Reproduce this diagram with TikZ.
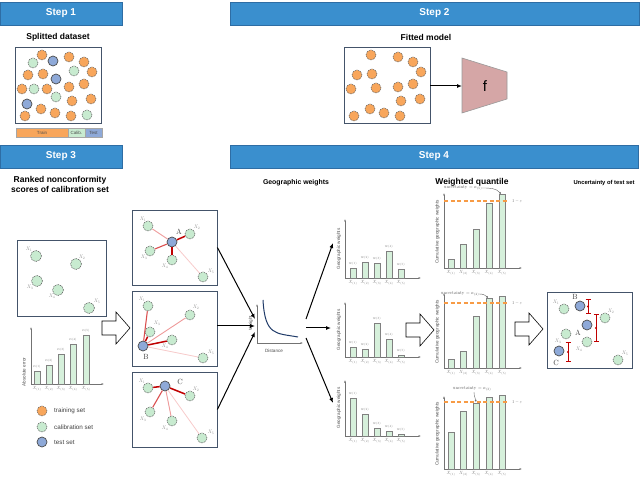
\documentclass[tikz,border=0pt]{standalone}
\usepackage{fontspec}
\setsansfont{Liberation Sans}
\usetikzlibrary{arrows.meta}
\definecolor{bannerblue}{HTML}{3A8FCE}
\definecolor{bannerline}{HTML}{2E6DA4}
\definecolor{corange}{HTML}{F8A65B}
\definecolor{cgreen}{HTML}{C8EBD0}
\definecolor{cblue}{HTML}{8EA9D8}
\definecolor{boxc}{HTML}{44546A}
\definecolor{barfill}{HTML}{D6F0DB}
\definecolor{trapfill}{HTML}{D5A6A6}
\definecolor{rdark}{HTML}{C00000}
\definecolor{rmid}{HTML}{DA4F4F}
\definecolor{rlight}{HTML}{EE9A9A}
\definecolor{rpale}{HTML}{F7CACA}
\definecolor{qline}{HTML}{F79B45}
\definecolor{curve}{HTML}{1F3A68}
\begin{document}
\begin{tikzpicture}[x=1pt,y=-1pt,
  banner/.style={draw=bannerline, fill=bannerblue, line width=0.6pt, text=white,
    font=\sffamily\bfseries\fontsize{10}{12}\selectfont, inner sep=0pt, minimum height=23pt},
  title/.style={font=\sffamily\bfseries\fontsize{8.5}{9.5}\selectfont, align=center, inner sep=0pt},
  frame/.style={draw=boxc, line width=0.8pt, inner sep=0pt, minimum width=86pt, minimum height=76pt},
  dot/.style={circle, minimum size=10pt, inner sep=0pt, draw=black!60, line width=0.6pt, dash pattern=on 1pt off 0.8pt},
  oc/.style={dot, fill=corange},
  gc/.style={dot, fill=cgreen},
  bc/.style={circle, minimum size=10pt, inner sep=0pt, fill=cblue, draw=black!70, line width=0.7pt},
  xl/.style={text=black!45, scale=0.5, inner sep=0pt},
  pl/.style={text=black!75, scale=0.75, inner sep=0pt},
  ml/.style={text=black!50, scale=0.45, inner sep=0pt},
  axl/.style={text=black!70, font=\sffamily\fontsize{4.6}{5}\selectfont, inner sep=0pt},
  axis/.style={draw=black!55, line width=0.5pt, -{Latex[length=2.5pt,width=2pt]}},
  bar/.style={draw=black!50, fill=barfill, line width=0.5pt},
  r1/.style={draw=rdark, line width=1.5pt},
  r2/.style={draw=rmid, line width=1.1pt},
  r3/.style={draw=rlight, line width=0.9pt},
  r4/.style={draw=rpale, line width=0.8pt},
  blk/.style={draw=black, line width=1pt, -{Latex[length=5pt,width=4pt]}},
  harrow/.pic={\draw[fill=white, line width=0.6pt] (-28,-7) -- (-14,-7) -- (-14,-16) -- (0,0) -- (-14,16) -- (-14,7) -- (-28,7) -- cycle;},
  qdash/.style={draw=qline, line width=1.3pt, dash pattern=on 4pt off 2.5pt},
  ebar/.style={draw=rdark, line width=0.9pt, {Bar[width=5pt]}-{Bar[width=5pt]}},
]
\useasboundingbox (0,0) rectangle (640,478);

% ---------- banners ----------
\node[banner, minimum width=122pt] (b1) at (61,13.5) {Step 1};
\node[banner, minimum width=409pt] (b2) at (434.5,13.5) {Step 2};
\node[banner, minimum width=122pt] (b3) at (61,156.5) {Step 3};
\node[banner, minimum width=408pt] (b4) at (434,156.5) {Step 4};

% ---------- Step 1 ----------
\node[title] (t1) at (58,37) {Splitted dataset};
\node[frame] (box1) at (58,85) {};
\foreach \x/\y [count=\i] in {42/55,69/57,84/62,28/75,43/74,92/72,22/89,47/89,69/87,84/84,72/101,91/99,41/109,55/113,71/116,25/116}
  \node[oc] (d1o\i) at (\x,\y) {};
\foreach \x/\y [count=\i] in {33/63,74/71,34/89,56/97,87/115}
  \node[gc] (d1g\i) at (\x,\y) {};
\foreach \x/\y [count=\i] in {53/61,56/79,27/104}
  \node[bc] (d1b\i) at (\x,\y) {};
\node[draw=black!35, fill=corange, minimum width=52pt, minimum height=9pt, inner sep=0pt, font=\sffamily\fontsize{4.5}{5}\selectfont, text=black!70] (lt) at (42,132.5) {Train};
\node[draw=black!35, fill=cgreen, minimum width=17pt, minimum height=9pt, inner sep=0pt, font=\sffamily\fontsize{4.5}{5}\selectfont, text=black!70] (lc) at (76.5,132.5) {Calib.};
\node[draw=black!35, fill=cblue, minimum width=17pt, minimum height=9pt, inner sep=0pt, font=\sffamily\fontsize{4.5}{5}\selectfont, text=black!70] (ls) at (93.5,132.5) {Test};

% ---------- Step 2 ----------
\node[title] (t2) at (426,37) {Fitted model};
\node[frame] (box2) at (387,85) {};
\foreach \x/\y [count=\i] in {371/55,398/57,413/62,357/75,372/74,421/72,351/89,376/88,398/87,413/84,401/101,420/99,370/109,384/113,400/116,354/116}
  \node[oc] (d2o\i) at (\x,\y) {};
\draw[draw=black!40, fill=trapfill, line width=0.6pt] (462,58) -- (507,72) -- (507,99) -- (462,113) -- cycle;
\coordinate (trapL) at (462,86);
\node[font=\sffamily\fontsize{15}{15}\selectfont] (fmod) at (485,86) {f};
\draw[blk] (box2.east |- trapL) -- (trapL);

% ---------- Step 3 ----------
\node[title] (t3) at (60,184.5) {Ranked nonconformity\\scores of calibration set};
\node[frame, minimum width=89pt] (box3) at (62,278) {};
\foreach \x/\y/\lx/\ly [count=\i] in {36/256/29/249,76/264/82/257,37/281/30/287,58/290/52/296,89/308/97/301}{
  \node[gc, minimum size=11pt] (c3\i) at (\x,\y) {};
  \node[xl] (c3l\i) at (\lx,\ly) {$X_{\i}$};
}
% bar chart of scores
\draw[axis] (31,384) -- (31,327);
\draw[axis] (31,384) -- (104,384);
\node[axl, rotate=90] (s3y) at (24,372) {Absolute error};
\foreach \cx/\tp [count=\i] in {37/371,49/365,61/354,73/344,86/335}{
  \draw[bar] (\cx-3,384) rectangle (\cx+3,\tp);
  \node[ml] (s3a\i) at (\cx,\tp-4) {$\alpha_{(\i)}$};
  \node[ml] (s3x\i) at (\cx,389) {$X_{(\i)}$};
}
% legend
\node[oc] (lg1) at (42,411) {};
\node[gc] (lg2) at (42,427) {};
\node[bc] (lg3) at (42,442) {};
\node[anchor=west, font=\sffamily\fontsize{6.3}{7}\selectfont, text=black!75, inner sep=0] (lg1t) at (54,411) {training set};
\node[anchor=west, font=\sffamily\fontsize{6.3}{7}\selectfont, text=black!75, inner sep=0] (lg2t) at (54,427) {calibration set};
\node[anchor=west, font=\sffamily\fontsize{6.3}{7}\selectfont, text=black!75, inner sep=0] (lg3t) at (54,442) {test set};

\pic at (130,328) {harrow};

% ---------- panels A, B, C ----------
\node[frame, minimum width=85pt, minimum height=75pt] (pnA) at (174.5,247.5) {};
\node[frame, minimum width=85pt, minimum height=75pt] (pnB) at (174.5,328.5) {};
\node[frame, minimum width=85pt, minimum height=75pt] (pnC) at (174.5,409.5) {};

% panel A
\node[bc] (pA) at (172,242) {};
\node[pl] (pAl) at (179,232) {A};
\foreach \x/\y/\lx/\ly [count=\i] in {148/226/143/219,190/234/197/227,150/251/144/257,172/260/165/266,203/277/211/271}{
  \node[gc] (pA\i) at (\x,\y) {};
  \node[xl] (pAl\i) at (\lx,\ly) {$X_{\i}$};
}
\draw[r1] (pA) -- (pA2); \draw[r1] (pA) -- (pA4); \draw[r2] (pA) -- (pA3);
\draw[r3] (pA) -- (pA1); \draw[r4] (pA) -- (pA5);

% panel B
\node[bc] (pB) at (143,346) {};
\node[pl] (pBl) at (146,357) {B};
\foreach \x/\y/\lx/\ly [count=\i] in {148/306/142/299,190/315/196/307,150/332/157/323,172/340/165/346,203/358/211/352}{
  \node[gc] (pB\i) at (\x,\y) {};
  \node[xl] (pBl\i) at (\lx,\ly) {$X_{\i}$};
}
\draw[r1] (pB) -- (pB3); \draw[r1] (pB) -- (pB4); \draw[r2] (pB) -- (pB1);
\draw[r3] (pB) -- (pB2); \draw[r4] (pB) -- (pB5);

% panel C
\node[bc] (pC) at (165,386) {};
\node[pl] (pCl) at (180,382) {C};
\foreach \x/\y/\lx/\ly [count=\i] in {148/388/142/381,190/396/196/389,150/412/143/419,172/421/165/428,202/438/211/432}{
  \node[gc] (pC\i) at (\x,\y) {};
  \node[xl] (pCl\i) at (\lx,\ly) {$X_{\i}$};
}
\draw[r1] (pC) -- (pC1); \draw[r1] (pC) -- (pC2); \draw[r2] (pC) -- (pC3);
\draw[r3] (pC) -- (pC4); \draw[r4] (pC) -- (pC5);

% ---------- geographic weights ----------
\node[title, font=\sffamily\bfseries\fontsize{6.9}{8}\selectfont] (t4) at (296,183) {Geographic weights};
\draw[axis] (257,343) -- (257,304);
\draw[axis] (257,343) -- (303,343);
\draw[draw=curve, line width=1pt] (263,300) .. controls (265,336) and (276,333) .. (298,337);
\node[axl, rotate=90] (wy) at (251,323) {Weight};
\node[axl] (wx) at (274,350.5) {Distance};
\coordinate (win1) at (255,319);
\coordinate (win2) at (255,326);
\coordinate (win3) at (255,332);
\draw[blk] (pnA.east) -- (win1);
\draw[blk] (pnB.east |- win2) -- (win2);
\draw[blk] (pnC.east) -- (win3);
\coordinate (wout1) at (306,319);
\coordinate (wout2) at (306,328);
\coordinate (wout3) at (306,338);
\coordinate (h1in) at (333,243);
\coordinate (h2in) at (331,328);
\coordinate (h3in) at (333,403);
\draw[blk] (wout1) -- (h1in);
\draw[blk] (wout2) -- (h2in);
\draw[blk] (wout3) -- (h3in);

% histograms
\foreach \base/\ytop/\tA/\tB/\tC/\tD/\tE/\yl [count=\k] in {278/219/268/262/263/251/269/249, 357/302/347/349/323/339/355/330, 436/380/398/414/428/431/434/408}{
  \draw[axis] (345,\base) -- (345,\ytop);
  \draw[axis] (345,\base) -- (421,\base);
  \node[axl, rotate=90] (hy\k) at (339,\yl) {Geographic weights};
  \foreach \cx/\tp [count=\i] in {353/\tA,365/\tB,377/\tC,389/\tD,401/\tE}{
    \draw[bar] (\cx-3,\base) rectangle (\cx+3,\tp);
    \node[ml] (h\k w\i) at (\cx,\tp-4) {$w_{(\i)}$};
    \node[ml] (h\k x\i) at (\cx,\base+5) {$X_{(\i)}$};
  }
}

\pic at (434,330) {harrow};

% ---------- weighted quantile ----------
\node[title] (t5) at (472,182) {Weighted quantile};
\foreach \base/\ytop/\tA/\tB/\tC/\tD/\tE/\yl/\dl [count=\k] in {268/193/259/244/229/203/194/232/201, 368/293/359/351/316/298/296/332/303, 469/396/432/411/403/397/395/434/402}{
  \draw[axis] (444,\base) -- (444,\ytop);
  \draw[axis] (444,\base) -- (522,\base);
  \node[axl, rotate=90] (qy\k) at (437.5,\yl) {Cumulative geographic weights};
  \foreach \cx/\tp [count=\i] in {451/\tA,463.5/\tB,476/\tC,489/\tD,502/\tE}{
    \draw[bar] (\cx-3,\base) rectangle (\cx+3,\tp);
    \node[ml] (q\k x\i) at (\cx,\base+5) {$X_{(\i)}$};
  }
  \coordinate (qd\k a) at (444,\dl);
  \coordinate (qd\k b) at (508,\dl);
  \draw[qdash] (qd\k a) -- (qd\k b);
  \node[ml, text=black!60, anchor=west] (qe\k) at (512,\dl) {$1-\varepsilon$};
}
\node[ml, text=black!65, scale=1.05] (u1) at (463,188) {uncertainty $=\alpha_{(5)}$};
\coordinate (u1t) at (501,194);
\draw[black!60, line width=0.4pt, -{Latex[length=2pt,width=2pt]}] (u1.east) to[out=0,in=130] (u1t);
\node[ml, text=black!65, scale=1.05] (u2) at (460,294) {uncertainty $=\alpha_{(4)}$};
\coordinate (u2t) at (488,298);
\draw[black!60, line width=0.4pt, -{Latex[length=2pt,width=2pt]}] (u2.east) to[out=0,in=130] (u2t);
\node[ml, text=black!65, scale=1.05] (u3) at (472,389) {uncertainty $=\alpha_{(3)}$};
\coordinate (u3s) at (474,392);
\coordinate (u3t) at (476,402);
\draw[black!60, line width=0.4pt, -{Latex[length=2pt,width=2pt]}] (u3s) to[out=-90,in=100] (u3t);

\pic at (543,329) {harrow};

% ---------- uncertainty of test set ----------
\node[title, font=\sffamily\bfseries\fontsize{5.8}{7}\selectfont] (t6) at (604,183) {Uncertainty of test set};
\node[frame, minimum width=85pt] (box6) at (589.5,330) {};
\foreach \x/\y/\lx/\ly [count=\i] in {564/309/556/302,605/318/611/311,566/334/558/341,587/342/579/349,618/360/625/353}{
  \node[gc] (u\i) at (\x,\y) {};
  \node[xl] (ul\i) at (\lx,\ly) {$X_{\i}$};
}
\node[bc] (uB) at (580,306) {};
\node[pl] (uBl) at (575,297) {B};
\node[bc] (uA) at (587,325) {};
\node[pl] (uAl) at (578,333) {A};
\node[bc] (uC) at (559,351) {};
\node[pl] (uCl) at (556,363) {C};
\draw[ebar] (588,299) -- (588,314);
\fill[rdark] (588,306.5) circle (1.2pt);
\draw[ebar] (596,314) -- (596,342);
\fill[rdark] (596,328) circle (1.2pt);
\draw[ebar] (568,342) -- (568,362);
\fill[rdark] (568,352) circle (1.2pt);
\end{tikzpicture}
\end{document}
